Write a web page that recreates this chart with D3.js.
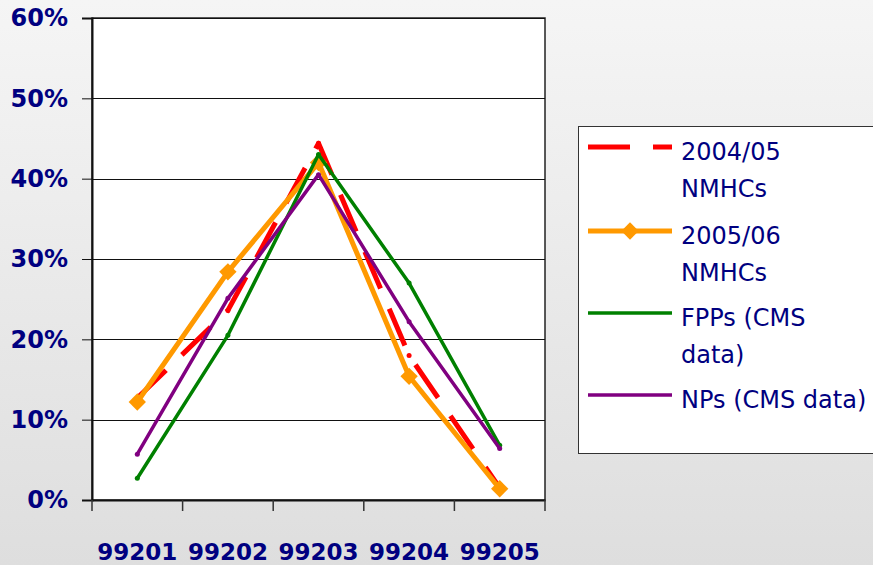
<!DOCTYPE html>
<html>
<head>
<meta charset="utf-8">
<script src="https://cdn.jsdelivr.net/npm/d3@7"></script>
<style>
  html, body { margin: 0; padding: 0; }
  body { width: 873px; height: 565px; overflow: hidden; }
  svg text { font-family: "Comic Sans MS", "DejaVu Sans", sans-serif; }
</style>
</head>
<body>
<svg id="chart" width="873" height="565"></svg>
<script>
"use strict";

var categories = ["99201", "99202", "99203", "99204", "99205"],
    yTicks = [0, 0.1, 0.2, 0.3, 0.4, 0.5, 0.6],

    nmhc0405 = [0.127, 0.236, 0.444, 0.180, 0.015],
    nmhc0506 = [0.122, 0.284, 0.420, 0.154, 0.014],
    fpps = [0.027, 0.205, 0.430, 0.270, 0.068],
    nps = [0.057, 0.251, 0.405, 0.222, 0.064],

    seriesNames = [["2004/05", "NMHCs"], ["2005/06", "NMHCs"], ["FPPs (CMS", "data)"], ["NPs (CMS data)"]],

    navy = "#000080",
    plot = {left: 92, right: 545, top: 18, bottom: 500};

var series = [
    {values: nmhc0405, colour: "#ff0000", width: 5, dash: "40,22", marker: "dot"},
    {values: nmhc0506, colour: "#ff9900", width: 5, dash: null, marker: "diamond"},
    {values: fpps, colour: "#008000", width: 3.5, dash: null, marker: "dot"},
    {values: nps, colour: "#800080", width: 3.5, dash: null, marker: "dot"}
];

var svg = d3.select("#chart");

// page background
var grad = svg.append("defs").append("linearGradient")
    .attr("id", "bg").attr("x1", 0).attr("y1", 0).attr("x2", 0).attr("y2", 1);
grad.append("stop").attr("offset", "0%").attr("stop-color", "#f5f5f5");
grad.append("stop").attr("offset", "100%").attr("stop-color", "#dedede");
svg.append("rect").attr("width", 873).attr("height", 565).attr("fill", "url(#bg)");

var x = d3.scaleBand().domain(categories).range([plot.left, plot.right]),
    y = d3.scaleLinear().domain([0, 0.6]).range([plot.bottom, plot.top]);

svg.append("rect")
    .attr("x", plot.left).attr("y", plot.top)
    .attr("width", plot.right - plot.left).attr("height", plot.bottom - plot.top)
    .attr("fill", "#fff").attr("stroke", "#222").attr("stroke-width", 1.5);

// gridlines
svg.append("g").selectAll("line")
    .data(yTicks.slice(1))
    .enter().append("line")
    .attr("x1", plot.left).attr("x2", plot.right)
    .attr("y1", function(d) { return Math.round(y(d)) + 0.5; })
    .attr("y2", function(d) { return Math.round(y(d)) + 0.5; })
    .attr("stroke", "#111").attr("stroke-width", 1);

// y axis
var yAxis = svg.append("g")
    .attr("transform", "translate(" + plot.left + ",0)")
    .call(d3.axisLeft(y).tickValues(yTicks).tickSize(10).tickPadding(14)
          .tickFormat(d3.format(".0%")));
yAxis.select(".domain").attr("stroke", "#111").attr("stroke-width", 2);
yAxis.selectAll(".tick line").attr("stroke", "#111");
yAxis.selectAll("text")
    .attr("fill", navy).attr("font-size", 24).attr("font-weight", "bold")
    .style("font-family", "'DejaVu Sans', sans-serif");

// x axis with ticks on band edges
var xAxis = svg.append("g")
    .attr("transform", "translate(0," + plot.bottom + ")")
    .call(d3.axisBottom(x).tickSize(0).tickPadding(44));
xAxis.select(".domain").attr("stroke", "#111").attr("stroke-width", 2);
xAxis.selectAll("text")
    .attr("fill", navy).attr("font-size", 23).attr("font-weight", "bold")
    .style("font-family", "'DejaVu Sans', sans-serif");
xAxis.selectAll(".edge")
    .data(categories.concat(["end"]))
    .enter().append("line")
    .attr("class", "edge")
    .attr("x1", function(d, i) { return plot.left + i * x.step(); })
    .attr("x2", function(d, i) { return plot.left + i * x.step(); })
    .attr("y1", 0).attr("y2", 11)
    .attr("stroke", "#333").attr("stroke-width", 1.5);

var line = d3.line()
    .x(function(d, i) { return x(categories[i]) + x.bandwidth() / 2; })
    .y(function(d) { return y(d); });

var groups = svg.append("g").selectAll("g.series")
    .data(series)
    .enter().append("g")
    .classed("series", true);

groups.append("path")
    .attr("d", function(s) { return line(s.values); })
    .attr("fill", "none")
    .attr("stroke", function(s) { return s.colour; })
    .attr("stroke-width", function(s) { return s.width; })
    .attr("stroke-dasharray", function(s) { return s.dash; })
    .attr("stroke-linejoin", "round");

var diamond = d3.symbol().type(d3.symbolSquare).size(150);

groups.each(function(s) {
    var g = d3.select(this);
    var pts = g.selectAll(".pt")
        .data(s.values)
        .enter();
    if (s.marker === "diamond") {
        pts.append("path")
            .attr("d", diamond)
            .attr("transform", function(d, i) {
                return "translate(" + (x(categories[i]) + x.bandwidth() / 2) + "," + y(d) + ") rotate(45)";
            })
            .attr("fill", s.colour);
    } else {
        pts.append("circle")
            .attr("cx", function(d, i) { return x(categories[i]) + x.bandwidth() / 2; })
            .attr("cy", function(d) { return y(d); })
            .attr("r", 2.5)
            .attr("fill", s.colour);
    }
});

// legend
var legend = svg.append("g").attr("transform", "translate(578,126)");
legend.append("rect")
    .attr("x", 0.5).attr("y", 0.5)
    .attr("width", 320).attr("height", 327)
    .attr("fill", "#fff").attr("stroke", "#333").attr("stroke-width", 1);

var legendRows = [21, 105, 187, 269],
    lineGap = 37;

var items = legend.selectAll("g.legend-item")
    .data(series)
    .enter().append("g")
    .classed("legend-item", true)
    .attr("transform", function(d, i) { return "translate(0," + legendRows[i] + ")"; });

items.append("line")
    .attr("x1", 10).attr("x2", 94)
    .attr("y1", 0).attr("y2", 0)
    .attr("stroke", function(s) { return s.colour; })
    .attr("stroke-width", function(s) { return s.width; })
    .attr("stroke-dasharray", function(s) { return s.dash ? "42,23" : null; });

items.filter(function(s) { return s.marker === "diamond"; })
    .append("path")
    .attr("d", diamond)
    .attr("transform", "translate(52,0) rotate(45)")
    .attr("fill", function(s) { return s.colour; });

items.each(function(s, i) {
    d3.select(this).selectAll("text")
        .data(seriesNames[i])
        .enter().append("text")
        .attr("x", 103)
        .attr("y", function(d, j) { return 13 + j * lineGap; })
        .attr("fill", navy)
        .attr("font-size", 24)
        .text(function(d) { return d; });
});
</script>
</body>
</html>
